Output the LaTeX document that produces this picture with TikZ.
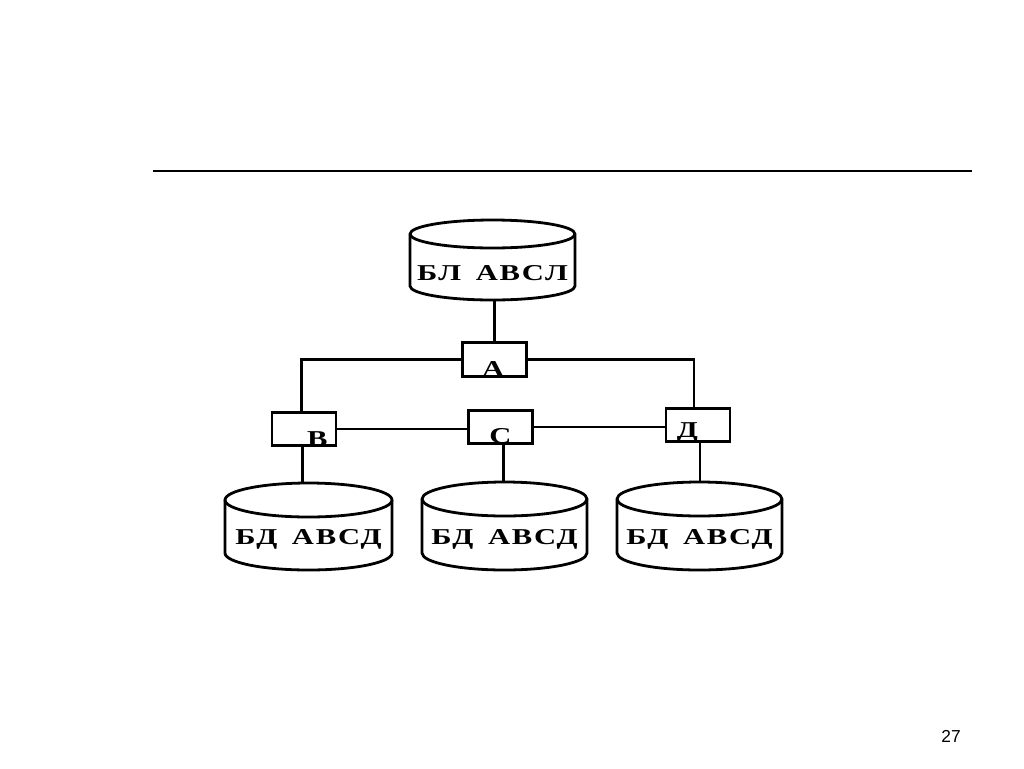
\documentclass[tikz,border=0pt]{standalone}
\usepackage{fontspec}
\setmainfont{Liberation Serif}
\newfontfamily\dgfont[FakeStretch=1.35,LetterSpace=8]{Liberation Serif}
\newfontfamily\pgfont{Liberation Sans}
\usetikzlibrary{calc}
\tikzset{
  ln/.style={line width=2.1pt},
  boxn/.style={draw, line width=2.1pt, minimum width=48pt, minimum height=25pt, inner sep=0pt},
  lbl/.style={font=\dgfont\bfseries\fontsize{17}{17}\selectfont, inner sep=0.5pt},
  cyltext/.style={font=\dgfont\bfseries\fontsize{17}{17}\selectfont, inner sep=0pt},
}
% name, cx, top-ellipse centre y, rx, ry, height, text
\newcommand\dbcyl[7]{%
  \draw[ln] ({#2-#4},#3) -- ({#2-#4},{#3+#6})
    arc[start angle=180, end angle=0, x radius=#4, y radius=#5]
    -- ({#2+#4},#3)
    arc[start angle=0, end angle=-180, x radius=#4, y radius=#5] -- cycle;
  \draw[ln] ({#2-#4},#3) arc[start angle=180, end angle=0, x radius=#4, y radius=#5];
  \coordinate (#1-top) at (#2,{#3-#5});
  \coordinate (#1-bot) at (#2,{#3+#6+#5});
  \node[cyltext] (#1) at (#2,{#3+0.75*#6}) {#7};
}
\begin{document}
\begin{tikzpicture}[x=0.75pt,y=-0.75pt]
\path[use as bounding box] (0,0) rectangle (1024,768);

% horizontal rule
\draw[line width=1.4pt] (153,171) -- (972,171);

% databases
\dbcyl{dbt}{492.5}{234}{82.5}{14}{52}{БЛ\hspace{11pt}АВСЛ}
\dbcyl{dbb}{308.5}{500}{83.5}{17}{53}{БД\hspace{11pt}АВСД}
\dbcyl{dbc}{504.5}{499}{82.5}{17}{54}{БД\hspace{11pt}АВСД}
\dbcyl{dbd}{699.5}{499}{82.5}{17}{54}{БД\hspace{11pt}АВСД}

% nodes
\node[boxn, label={[lbl,anchor=south,xshift=-1pt]south:А}] (A) at (494.5,359.5) {};
\node[boxn, label={[lbl,anchor=south,xshift=10pt]south:В}] (B) at (304,429) {};
\node[boxn, label={[lbl,anchor=south,xshift=0pt]south:С}] (C) at (500.5,427) {};
\node[boxn, label={[lbl,anchor=south,xshift=-8pt]south:Д}] (D) at (698,425) {};

% connectors
\draw[ln] (A.north) -- (A.north |- dbt-bot);
\draw[ln] (A.west) -| ([xshift=-2pt]B.north);
\draw[ln] (A.east) -| ([xshift=-3pt]D.north);
\draw[ln] (B.east) -- (B.east -| C.west);
\draw[ln] (C.east) -- (C.east -| D.west);
\draw[ln] ([xshift=-1pt]B.south) -- ([xshift=-1pt]B.south |- dbb-top);
\draw[ln] ([xshift=2pt]C.south) -- ([xshift=2pt]C.south |- dbc-top);
\draw[ln] ([xshift=1.5pt]D.south) -- ([xshift=1.5pt]D.south |- dbd-top);

% page number
\node[font=\pgfont\fontsize{13}{14}\selectfont] (pg) at (951,736) {27};
\end{tikzpicture}
\end{document}
